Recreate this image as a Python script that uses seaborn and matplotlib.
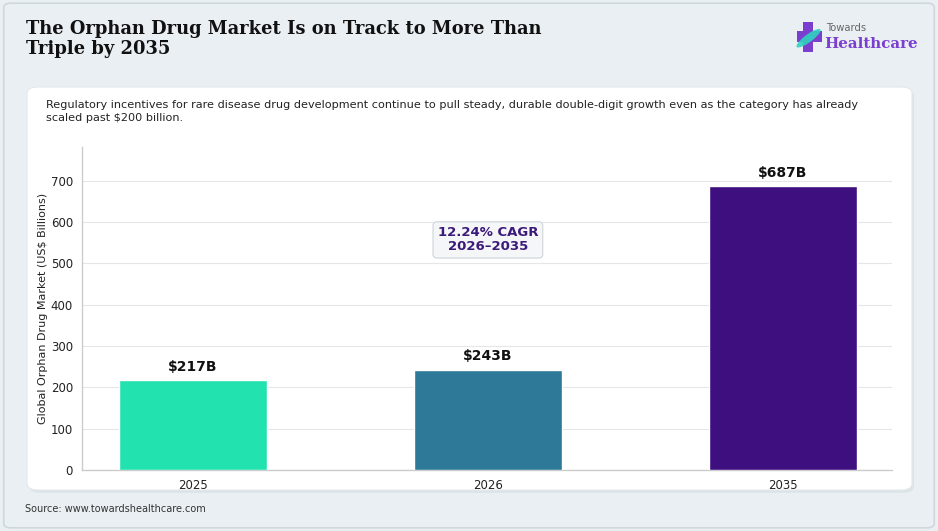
import matplotlib
matplotlib.use("Agg")
import matplotlib.pyplot as plt
import seaborn as sns
import pandas as pd
from matplotlib.patches import FancyBboxPatch, Rectangle, Ellipse

years = ["2025", "2026", "2035"]
market = [217, 243, 687]
bar_labels = ["$217B", "$243B", "$687B"]
bar_colors = ["#22e3b0", "#2e7898", "#3d0f7f"]

title = "The Orphan Drug Market Is on Track to More Than\nTriple by 2035"
subtitle = ("Regulatory incentives for rare disease drug development continue to pull steady, durable double-digit growth even as the category has already\n"
            "scaled past $200 billion.")
cagr_text = "12.24% CAGR\n2026–2035"
y_label = "Global Orphan Drug Market (US$ Billions)"
source = "Source: www.towardshealthcare.com"

df = pd.DataFrame({"year": years, "value": market})

sns.set_style("white")
plt.rcParams["font.family"] = ["DejaVu Sans"]

fig = plt.figure(figsize=(9.38, 5.31), dpi=100)
fig.patch.set_facecolor("#e9eff2")

# outer frame
fig.patches.append(FancyBboxPatch((0.004, 0.006), 0.992, 0.988, boxstyle="round,pad=0,rounding_size=0.008",
                                  transform=fig.transFigure, facecolor="none", edgecolor="#cfd8dc", lw=1.2, zorder=-5))
# white card with a faint shadow
fig.patches.append(FancyBboxPatch((0.031, 0.072), 0.9435, 0.759, boxstyle="round,pad=0,rounding_size=0.012",
                                  transform=fig.transFigure, facecolor="#dde4e8", edgecolor="none", zorder=-5))
fig.patches.append(FancyBboxPatch((0.0288, 0.0772), 0.9435, 0.759, boxstyle="round,pad=0,rounding_size=0.012",
                                  transform=fig.transFigure, facecolor="white", edgecolor="#e3e8eb", lw=0.8, zorder=-4))

fig.text(0.028, 0.962, title, fontsize=12.9, fontweight="bold", family="DejaVu Serif",
         color="#111111", va="top", ha="left", linespacing=1.12)
fig.text(0.049, 0.812, subtitle, fontsize=8.15, color="#222222", va="top", ha="left", linespacing=1.4)
fig.text(0.027, 0.041, source, fontsize=7.0, color="#333333", va="center", ha="left")

# logo
fig.patches.append(Rectangle((0.856, 0.902), 0.0107, 0.056, transform=fig.transFigure, facecolor="#7b3fd0", edgecolor="none"))
fig.patches.append(Rectangle((0.8497, 0.921), 0.0266, 0.021, transform=fig.transFigure, facecolor="#7b3fd0", edgecolor="none"))
fig.patches.append(Ellipse((0.862, 0.928), 0.011, 0.042, angle=-35, transform=fig.transFigure, facecolor="#2fd3c0", edgecolor="none", alpha=0.9))
fig.text(0.8805, 0.948, "Towards", fontsize=7.2, color="#666666", va="center", ha="left")
fig.text(0.879, 0.918, "Healthcare", fontsize=10.8, fontweight="bold", family="DejaVu Serif",
         color="#7b3fd0", va="center", ha="left")

ax = fig.add_axes([0.0874, 0.1149, 0.8636, 0.6083])
ax.patch.set_alpha(0)
sns.barplot(data=df, x="year", y="value", hue="year", palette=bar_colors, legend=False,
            width=0.5, saturation=1, ax=ax, zorder=3)

ax.set_ylim(0, 782)
ax.set_xlim(-0.376, 2.37)
ax.set_yticks(range(0, 701, 100))
ax.yaxis.grid(True, color="#e6e6e6", lw=0.8, zorder=0)
ax.set_axisbelow(True)
ax.set_xlabel("")
ax.set_ylabel(y_label, fontsize=8, color="#222222", labelpad=2)
ax.tick_params(axis="both", labelsize=8.5, colors="#222222", length=3, width=0.8)
ax.tick_params(axis="both", color="#999999")
for side in ["top", "right"]:
    ax.spines[side].set_visible(False)
for side in ["left", "bottom"]:
    ax.spines[side].set_color("#cccccc")
    ax.spines[side].set_linewidth(1.0)

for i, (v, lab) in enumerate(zip(market, bar_labels)):
    ax.annotate(lab, (i, v), xytext=(0, 4.5), textcoords="offset points", ha="center", va="bottom",
                fontsize=10, fontweight="bold", color="#111111")

ax.text(1, 557, cagr_text, ha="center", va="center", fontsize=9.5, fontweight="bold", color="#3b1a7a",
        linespacing=1.1,
        bbox=dict(boxstyle="round,pad=0.35,rounding_size=0.3", facecolor="#f4f6f8", edgecolor="#cfd4d8", lw=0.8))

fig.savefig("out.png", dpi=100, facecolor=fig.get_facecolor())
